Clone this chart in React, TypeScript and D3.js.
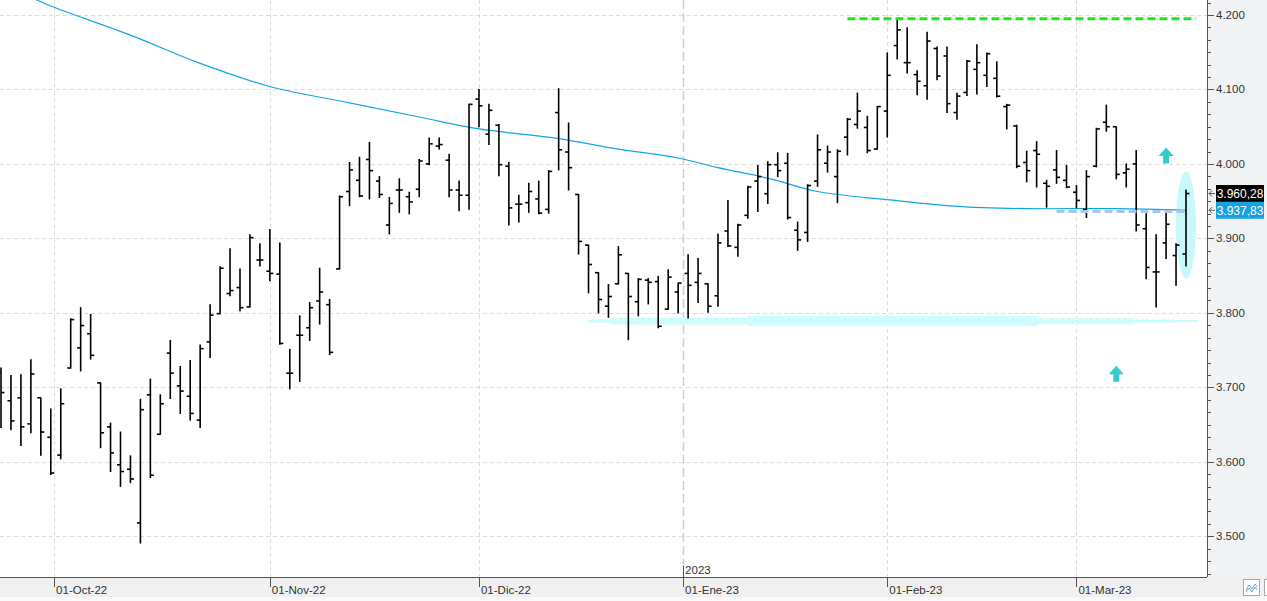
import React from 'react';
import * as d3 from 'd3';

// trading days per month (day of month)
const sep22 = [23, 26, 27, 28, 29, 30];
const oct22 = [3, 4, 5, 6, 7, 10, 11, 12, 13, 14, 17, 18, 19, 20, 21, 24, 25, 26, 27, 28, 31];
const nov22 = [1, 2, 3, 4, 7, 8, 9, 10, 11, 14, 15, 16, 17, 18, 21, 22, 23, 25, 28, 29, 30];
const dec22 = [1, 2, 5, 6, 7, 8, 9, 12, 13, 14, 15, 16, 19, 20, 21, 22, 23, 27, 28, 29, 30];
const jan23 = [3, 4, 5, 6, 9, 10, 11, 12, 13, 17, 18, 19, 20, 23, 24, 25, 26, 27, 30, 31];
const feb23 = [1, 2, 3, 6, 7, 8, 9, 10, 13, 14, 15, 16, 17, 21, 22, 23, 24, 27, 28];
const mar23 = [1, 2, 3, 6, 7, 8, 9, 10, 13, 14, 15, 16];

// OHLC, one row per trading day
const opens = [
  3720, 3682, 3686, 3651, 3686, 3633, 3609, 3726, 3753, 3772, 3706, 3647, 3596, 3590, 3518, 3690, 3637, 3746, 3702, 3688,
  3656, 3761, 3799, 3826, 3834, 3808, 3871, 3856, 3852, 3719, 3770, 3780, 3816, 3811, 3859, 3963, 3978, 4006, 3977, 3918,
  3965, 3956, 3966, 4000, 4024, 4005, 3965, 3958, 4087, 4040, 4052, 3997, 3946, 3948, 3953, 3939, 4069, 4016, 3959, 3891,
  3854, 3809, 3839, 3853, 3815, 3844, 3842, 3805, 3828, 3853, 3841, 3839, 3823, 3910, 3888, 3931, 3977, 3960, 3999, 4001,
  3911, 3908, 3977, 4001, 3983, 4036, 4053, 4049, 4020, 4071, 4159, 4136, 4120, 4105, 4155, 4145, 4069, 4096, 4127, 4119,
  4115, 4077, 4051, 4002, 4018, 3974, 3992, 3978, 3962, 3939, 3997, 4056, 4050, 3988, 4000, 3913, 3855, 3894, 3877, 3879,
];
const highs = [
  3726, 3716, 3717, 3737, 3686, 3671, 3698, 3792, 3807, 3798, 3706, 3652, 3640, 3608, 3684, 3711, 3690, 3763, 3728, 3736,
  3757, 3811, 3862, 3886, 3859, 3905, 3893, 3912, 3894, 3751, 3796, 3814, 3860, 3818, 3957, 4002, 4009, 4029, 3983, 3955,
  3980, 3962, 4006, 4035, 4035, 4013, 3977, 4080, 4100, 4080, 4053, 4002, 3958, 3974, 3977, 3991, 4101, 4055, 3959, 3891,
  3854, 3838, 3889, 3853, 3846, 3846, 3849, 3858, 3840, 3878, 3873, 3839, 3906, 3951, 3919, 3970, 3998, 4003, 4015, 4014,
  3922, 3972, 4039, 4024, 4019, 4061, 4095, 4064, 4077, 4149, 4194, 4183, 4125, 4177, 4157, 4157, 4095, 4139, 4160, 4149,
  4137, 4080, 4052, 4017, 4030, 3978, 4018, 3998, 3971, 3991, 4048, 4079, 4050, 4000, 4018, 3933, 3905, 3934, 3893, 3965,
];
const lows = [
  3646, 3643, 3622, 3639, 3609, 3583, 3604, 3726, 3722, 3738, 3619, 3587, 3567, 3572, 3491, 3579, 3637, 3685, 3665, 3656,
  3646, 3740, 3799, 3823, 3803, 3808, 3863, 3843, 3758, 3698, 3708, 3763, 3785, 3744, 3859, 3944, 3956, 3953, 3955, 3906,
  3935, 3933, 3956, 3999, 4020, 3956, 3937, 3939, 4050, 4026, 3984, 3918, 3922, 3935, 3933, 3934, 3992, 3965, 3879, 3827,
  3800, 3794, 3839, 3764, 3796, 3812, 3780, 3805, 3800, 3793, 3814, 3801, 3809, 3889, 3876, 3927, 3936, 3947, 3983, 3926,
  3884, 3896, 3970, 3989, 3948, 4012, 4048, 4015, 4020, 4036, 4141, 4122, 4093, 4087, 4113, 4069, 4060, 4092, 4094, 4104,
  4090, 4047, 3995, 3976, 3969, 3942, 3974, 3968, 3941, 3928, 3996, 4044, 3980, 3969, 3910, 3846, 3808, 3873, 3837, 3863,
];
const closes = [
  3693, 3655, 3647, 3718, 3640, 3585, 3678, 3791, 3783, 3743, 3639, 3612, 3587, 3577, 3670, 3582, 3678, 3719, 3695, 3665,
  3752, 3797, 3860, 3830, 3807, 3901, 3871, 3853, 3759, 3719, 3770, 3807, 3828, 3747, 3956, 3992, 3957, 3991, 3959, 3947,
  3965, 3949, 4004, 4027, 4026, 3965, 3958, 4080, 4078, 4072, 3999, 3941, 3946, 3963, 3934, 3990, 4019, 3995, 3896, 3865,
  3818, 3822, 3878, 3822, 3845, 3841, 3782, 3848, 3840, 3837, 3853, 3809, 3894, 3890, 3918, 3969, 3983, 3999, 3991, 3928,
  3898, 3971, 4019, 4016, 4017, 4060, 4071, 4018, 4077, 4119, 4180, 4136, 4111, 4165, 4118, 4081, 4091, 4138, 4136, 4148,
  4091, 4079, 3997, 3991, 4013, 3970, 3982, 3969, 3951, 3983, 4047, 4050, 3986, 3993, 3918, 3861, 3855, 3919, 3891, 3960.28,
];

// moving average read at some bars (bar index, value)
const maBars = [3, 5, 13, 20, 27, 35, 42, 48, 56, 62, 68, 72, 77, 82, 89, 96, 103, 112, 119];
const maValues = [4224, 4212, 4173, 4135, 4104, 4082, 4063, 4047, 4034, 4020, 4008, 3995, 3981, 3963, 3952, 3943, 3940, 3940, 3937.83];

const yTicks = [3500, 3600, 3700, 3800, 3900, 4000, 4100, 4200];
const monthTickDates = ['2022-10-01', '2022-11-01', '2022-12-01', '2023-01-01', '2023-02-01', '2023-03-01'];
const monthTickLabels = ['01-Oct-22', '01-Nov-22', '01-Dic-22', '01-Ene-23', '01-Feb-23', '01-Mar-23'];
const yearStart = '2023-01-01';
const yearLabel = '2023';

// annotations
const resistanceLevel = 4195;
const resistanceFrom = 85;
const resistanceTo = 120;
const maLevel = 3936;
const maLevelFrom = 106;
const maLevelTo = 119;
const supportLevel = 3789;
const supportProfile: [number, number][] = [[58.9, 1.5], [61.3, 3.3], [75, 5], [104.1, 2.7], [113.7, 1.7], [117.8, 1], [120.2, 1]];
const ellipseBar = 119;
const ellipseTop = 3990;
const ellipseBottom = 3846;
const arrowBars = [117, 112];
const arrowTips = [4022, 3729];

const W = 1267;
const H = 601;
const plotR = 1207;
const plotB = 577;
const FONT = '"Segoe UI", "Liberation Sans", Arial, sans-serif';

function buildDates() {
  const months: [number, number, number[]][] = [
    [2022, 8, sep22], [2022, 9, oct22], [2022, 10, nov22], [2022, 11, dec22],
    [2023, 0, jan23], [2023, 1, feb23], [2023, 2, mar23],
  ];
  const out: Date[] = [];
  months.forEach(([y, m, days]) => days.forEach((d) => out.push(new Date(y, m, d))));
  return out;
}

const fmtInt = (v: number) => d3.format(',.0f')(v).replace(/,/g, '.');
const fmtDec = (v: number) => {
  const s = d3.format(',.2f')(v);
  return s.replace(/,/g, '#').replace('.', ',').replace(/#/g, '.');
};

export default function App() {
  const dates = buildDates();
  const n = dates.length;
  const x = d3.scaleLinear().domain([0, n - 1]).range([1, 1186]);
  const y = d3.scaleLinear().domain([3500, 4200]).range([536.3, 15]);

  const posOfDate = (s: string) => {
    const [yy, mm, dd] = s.split('-').map(Number);
    const t = new Date(yy, mm - 1, dd).getTime();
    const i = dates.findIndex((d) => d.getTime() >= t);
    if (dates[i].getTime() === t || i === 0) return x(i);
    const a = dates[i - 1].getTime();
    const b = dates[i].getTime();
    return x(i - 1 + (t - a) / (b - a));
  };

  const monthXs = monthTickDates.map(posOfDate);
  const yearX = posOfDate(yearStart);

  const maLine = d3.line<number>()
    .x((_, i) => x(maBars[i]))
    .y((v) => y(v))
    .curve(d3.curveCatmullRom.alpha(0.5))(maValues) as string;

  const supportArea = d3.area<[number, number]>()
    .x((d) => x(d[0]))
    .y0((d) => y(supportLevel) - d[1])
    .y1((d) => y(supportLevel) + d[1])
    .curve(d3.curveStepAfter)(supportProfile) as string;

  const minorTicks: number[] = [];
  for (let t = 3450; t <= 4220; t += 100 / 6) minorTicks.push(t);

  const arrowPath = (cx: number, ty: number) =>
    `M${cx},${ty} L${cx + 7.5},${ty + 8.5} L${cx + 3},${ty + 8.5} L${cx + 3},${ty + 16} L${cx - 3},${ty + 16} L${cx - 3},${ty + 8.5} L${cx - 7.5},${ty + 8.5} Z`;

  const lastClose = closes[n - 1];
  const lastMa = maValues[maValues.length - 1];

  return (
    <svg width={W} height={H} style={{ position: 'absolute', left: 0, top: 0, background: '#fff' }} fontFamily={FONT}>
      <defs>
        <clipPath id="plot">
          <rect x={0} y={0} width={plotR} height={plotB} />
        </clipPath>
      </defs>
      <rect x={0} y={0} width={W} height={H} fill="#fff" />
      <rect x={plotR} y={0} width={W - plotR} height={plotB} fill="#f2f3f5" />
      <rect x={0} y={plotB} width={W} height={H - plotB} fill="#f0f0f0" />
      <rect x={0} y={597} width={W} height={4} fill="#f9f9f9" />

      {/* grid */}
      <g stroke="#dcdcdc" strokeWidth={1} strokeDasharray="4,3">
        {yTicks.map((t) => (
          <line key={t} x1={0} x2={plotR} y1={Math.round(y(t)) + 0.5} y2={Math.round(y(t)) + 0.5} />
        ))}
        {monthXs.map((mx, i) =>
          monthTickDates[i] === yearStart ? null : (
            <line key={i} x1={Math.round(mx) + 0.5} x2={Math.round(mx) + 0.5} y1={0} y2={plotB} />
          ),
        )}
      </g>
      <line x1={Math.round(yearX) + 0.5} x2={Math.round(yearX) + 0.5} y1={0} y2={plotB} stroke="#cfcfcf" strokeWidth={1.5} strokeDasharray="9,4" />

      <g clipPath="url(#plot)">
        {/* support band and ellipse */}
        <path d={supportArea} fill="#ccfcfc" />
        <ellipse cx={x(ellipseBar)} cy={(y(ellipseTop) + y(ellipseBottom)) / 2} rx={10} ry={(y(ellipseBottom) - y(ellipseTop)) / 2} fill="#c9f8fb" />

        {/* moving average */}
        <path d={maLine} fill="none" stroke="#10a6e6" strokeWidth={1.2} />

        {/* OHLC bars */}
        <g stroke="#000" strokeWidth={1.6}>
          {dates.map((_, i) => {
            const cx = x(i);
            return (
              <g key={i}>
                <line x1={cx} x2={cx} y1={y(highs[i]) - 0.5} y2={y(lows[i]) + 0.5} />
                <line x1={cx - 3.5} x2={cx} y1={y(opens[i])} y2={y(opens[i])} />
                <line x1={cx} x2={cx + 3.5} y1={y(closes[i])} y2={y(closes[i])} />
              </g>
            );
          })}
        </g>

        {/* dashed levels */}
        <line x1={x(resistanceFrom)} x2={x(resistanceTo)} y1={y(resistanceLevel)} y2={y(resistanceLevel)} stroke="#1ee61e" strokeWidth={3} strokeDasharray="8,4" />
        <line x1={x(maLevelFrom)} x2={x(maLevelTo)} y1={y(maLevel)} y2={y(maLevel)} stroke="#a6c8ee" strokeWidth={3} strokeDasharray="8,4" />

        {/* arrows */}
        {arrowBars.map((b, i) => (
          <path key={i} d={arrowPath(x(b), y(arrowTips[i]))} fill="#33cccc" />
        ))}
      </g>

      {/* axes */}
      <line x1={plotR + 0.5} x2={plotR + 0.5} y1={0} y2={plotB} stroke="#555" strokeWidth={1} />
      <line x1={0} x2={plotR} y1={plotB + 0.5} y2={plotB + 0.5} stroke="#555" strokeWidth={1} />
      <g stroke="#555" strokeWidth={1}>
        {minorTicks.map((t, i) => {
          const yy = Math.round(y(t)) + 0.5;
          return yy > 0 && yy < plotB ? <line key={i} x1={plotR} x2={plotR + 4} y1={yy} y2={yy} /> : null;
        })}
        {yTicks.map((t) => (
          <line key={t} x1={plotR} x2={plotR + 7} y1={Math.round(y(t)) + 0.5} y2={Math.round(y(t)) + 0.5} />
        ))}
      </g>
      <g fontSize={11.5} fill="#333">
        {yTicks.map((t) => (
          <text key={t} x={1216} y={y(t)} dy="0.35em">{fmtInt(t)}</text>
        ))}
      </g>

      <g>
        {monthXs.map((mx, i) => (
          <g key={i}>
            <line x1={Math.round(mx) + 0.5} x2={Math.round(mx) + 0.5} y1={plotB} y2={587} stroke="#555" />
            <text x={mx + 2} y={594} fontSize={11.5} fill="#333">{monthTickLabels[i]}</text>
          </g>
        ))}
        <line x1={Math.round(yearX) + 0.5} x2={Math.round(yearX) + 0.5} y1={566} y2={plotB} stroke="#555" />
        <text x={yearX + 2} y={574} fontSize={11.5} fill="#333">{yearLabel}</text>
      </g>

      {/* price labels */}
      {[
        { v: lastClose, bg: '#000' },
        { v: lastMa, bg: '#14a2e0' },
      ].map((p, i) => {
        const py = y(p.v);
        return (
          <g key={i}>
            <path d={`M1215,${py} H1209 M1212,${py - 3} L1209,${py} L1212,${py + 3}`} stroke="#555" fill="none" strokeWidth={1} />
            <rect x={1216} y={py - 8.5} width={48} height={17} fill={p.bg} />
            <text x={1240} y={py} dy="0.36em" textAnchor="middle" fontSize={12} fill="#fff">{fmtDec(p.v)}</text>
          </g>
        );
      })}

      {/* corner button */}
      <rect x={1243.5} y={579.5} width={16} height={16} fill="#fff" stroke="#aaa" />
      <path d="M1246,590 L1249,585 L1252,589 L1255,584 L1257,587 M1246,592 L1249,588 L1252,592 L1255,587 L1257,590" fill="none" stroke="#6aa7d8" strokeWidth={1} />
      <rect x={1264.5} y={579.5} width={8} height={16} fill="#fff" stroke="#aaa" />
    </svg>
  );
}
